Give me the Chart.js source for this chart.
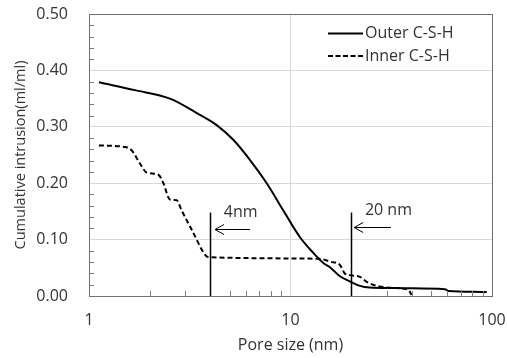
<!DOCTYPE html>
<html><head><meta charset="utf-8">
<script src="https://cdn.jsdelivr.net/npm/chart.js@4/dist/chart.umd.min.js"></script>
<style>html,body{margin:0;padding:0;background:#fff}canvas{display:block}</style>
</head><body>
<canvas id="c" width="507" height="358"></canvas>
<script>
// ---- data ----
const outerX = [1.12, 1.69, 2.52, 3.55, 4.3, 5.2, 6.3, 7.62, 9.2, 11.1, 13.0, 14.6, 15.7, 17.6, 19.7, 22.1, 24.7, 33.7, 58.4, 60.7, 94.1];
const outerY = [0.379, 0.365, 0.350, 0.321, 0.303, 0.277, 0.241, 0.200, 0.152, 0.105, 0.076, 0.058, 0.051, 0.035, 0.026, 0.018, 0.015, 0.014, 0.012, 0.009, 0.007];
const innerX = [1.12, 1.51, 1.63, 1.79, 1.93, 2.21, 2.34, 2.52, 2.72, 2.88, 3.11, 3.23, 3.77, 3.91, 14.0, 15.7, 17.6, 18.6, 19.7, 22.1, 23.9, 26.8, 33.7, 38.4, 39.9];
const innerY = [0.267, 0.264, 0.258, 0.235, 0.219, 0.215, 0.200, 0.171, 0.170, 0.152, 0.129, 0.118, 0.073, 0.069, 0.066, 0.061, 0.055, 0.040, 0.037, 0.034, 0.025, 0.018, 0.014, 0.011, 0.002];
const seriesNames = ['Outer C-S-H', 'Inner C-S-H'];
const xTickValues = [1, 10, 100];
const xMinorTicks = [2,3,4,5,6,7,8,9,20,30,40,50,60,70,80,90];
const yMinorTicks = [0.02,0.04,0.06,0.08,0.12,0.14,0.16,0.18,0.22,0.24,0.26,0.28,0.32,0.34,0.36,0.38,0.42,0.44,0.46,0.48];
// annotations
const markerX = [4, 20];
const markerTop = [0.148, 0.148];
const markerLabels = ['4nm', '20 nm'];
const markerLabelX = [4.67, 23.4];
const markerLabelY = [0.149, 0.152];
const arrowFromX = [6.3, 31.5];
const arrowToX = [4.22, 20.7];
const arrowY = [0.119, 0.122];

const FONT = "'Open Sans', 'DejaVu Sans', sans-serif";
const TXT = '#333333';

const toPts = (xs, ys) => xs.map((v, i) => ({x: v, y: ys[i]}));

const overlay = {
  id: 'overlay',
  afterDatasetsDraw(chart) {
    const {ctx, chartArea: a, scales: {x, y}} = chart;
    ctx.save();
    // minor ticks (inward)
    ctx.strokeStyle = '#7f7f7f';
    ctx.lineWidth = 1;
    yMinorTicks.forEach(v => {
      const py = Math.round(y.getPixelForValue(v)) + 0.5;
      ctx.beginPath(); ctx.moveTo(a.left, py); ctx.lineTo(a.left + 5, py); ctx.stroke();
    });
    xMinorTicks.forEach(v => {
      const px = Math.round(x.getPixelForValue(v)) + 0.5;
      ctx.beginPath(); ctx.moveTo(px, a.bottom); ctx.lineTo(px, a.bottom - 5); ctx.stroke();
    });
    // plot border
    ctx.strokeStyle = '#6f6f6f';
    ctx.strokeRect(Math.round(a.left) + 0.5, Math.round(a.top) + 0.5,
                   Math.round(a.right - a.left), Math.round(a.bottom - a.top));
    // markers
    ctx.strokeStyle = '#000';
    markerX.forEach((m, i) => {
      const px = Math.round(x.getPixelForValue(m)) + 0.5;
      ctx.lineWidth = 1.5;
      ctx.beginPath(); ctx.moveTo(px, y.getPixelForValue(0)); ctx.lineTo(px, y.getPixelForValue(markerTop[i])); ctx.stroke();
      const ay = Math.round(y.getPixelForValue(arrowY[i])) + 0.5;
      const x0 = x.getPixelForValue(arrowFromX[i]);
      const x1 = x.getPixelForValue(arrowToX[i]);
      ctx.lineWidth = 1;
      ctx.beginPath(); ctx.moveTo(x0, ay); ctx.lineTo(x1, ay); ctx.stroke();
      ctx.beginPath(); ctx.moveTo(x1 + 9, ay - 5); ctx.lineTo(x1, ay); ctx.lineTo(x1 + 9, ay + 5); ctx.stroke();
      ctx.font = '16px ' + FONT;
      ctx.textAlign = 'left';
      ctx.textBaseline = 'middle';
      ctx.fillStyle = TXT;
      ctx.fillText(markerLabels[i], x.getPixelForValue(markerLabelX[i]), y.getPixelForValue(markerLabelY[i]));
    });
    // legend
    const lx0 = a.right - 164, lx1 = a.right - 129;
    [0, 1].forEach(i => {
      const ly = a.top + 19.5 + i * 22.5;
      ctx.strokeStyle = '#000';
      ctx.lineWidth = 2;
      ctx.setLineDash(i === 0 ? [] : [5, 2.5]);
      ctx.beginPath(); ctx.moveTo(lx0, ly); ctx.lineTo(lx1, ly); ctx.stroke();
      ctx.setLineDash([]);
      ctx.font = '16px ' + FONT;
      ctx.textAlign = 'left';
      ctx.textBaseline = 'middle';
      ctx.fillStyle = TXT;
      ctx.fillText(seriesNames[i], lx1 + 2, ly);
    });
    ctx.restore();
  }
};

new Chart(document.getElementById('c'), {
  type: 'scatter',
  data: {
    datasets: [
      {label: seriesNames[0], data: toPts(outerX, outerY), showLine: true, borderColor: '#000', borderWidth: 2,
       pointRadius: 0, tension: 0.35},
      {label: seriesNames[1], data: toPts(innerX, innerY), showLine: true, borderColor: '#000', borderWidth: 2,
       borderDash: [5, 3], pointRadius: 0, cubicInterpolationMode: 'monotone'}
    ]
  },
  options: {
    responsive: false,
    animation: false,
    devicePixelRatio: 1,
    layout: {padding: {top: 14, right: 15, left: 0, bottom: 0}},
    plugins: {legend: {display: false}, tooltip: {enabled: false}},
    scales: {
      x: {
        type: 'logarithmic', min: 1, max: 100,
        afterBuildTicks: s => { s.ticks = xTickValues.map(v => ({value: v, major: true})); },
        afterFit: s => { s.height = 62; s.paddingLeft = 0; s.paddingRight = 0; },
        ticks: {font: {family: FONT, size: 16}, color: TXT, padding: 15, maxRotation: 0, autoSkip: false,
                callback: v => String(v)},
        grid: {drawTicks: false, color: c => (c.tick && c.tick.value === 10) ? '#d9d9d9' : 'rgba(0,0,0,0)'},
        border: {display: false},
        title: {display: true, text: 'Pore size (nm)', font: {family: FONT, size: 16}, color: TXT, padding: {top: 0, bottom: 3}}
      },
      y: {
        min: 0, max: 0.5,
        afterFit: s => { s.width = 89; s.paddingTop = 0; s.paddingBottom = 0; },
        ticks: {stepSize: 0.1, font: {family: FONT, size: 16}, color: TXT, padding: 21,
                callback: v => Number(v).toFixed(2)},
        grid: {drawTicks: false, color: c => (c.tick && (c.tick.value > 0.001 && c.tick.value < 0.499)) ? '#d9d9d9' : 'rgba(0,0,0,0)'},
        border: {display: false},
        title: {display: true, text: 'Cumulative intrusion(ml/ml)', font: {family: FONT, size: 14.5}, color: TXT, padding: {top: 12, bottom: 0}}
      }
    }
  },
  plugins: [overlay]
});
</script>
</body></html>
